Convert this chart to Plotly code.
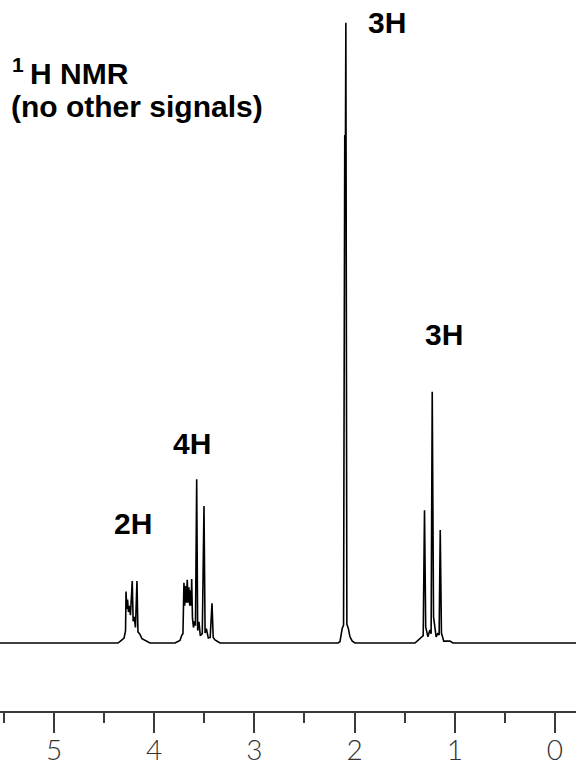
import plotly.graph_objects as go

# ---------------- data ----------------
# baseline end points (ppm, intensity)
baseline_left_ppm = [5.70]
baseline_left_int = [0.0]

# 2H multiplet (~4.2 ppm)
q_ppm = [4.361, 4.331, 4.301, 4.286, 4.281, 4.274, 4.266, 4.257, 4.247, 4.237,
         4.219, 4.210, 4.199, 4.187, 4.172, 4.162, 4.142, 4.122, 4.092, 4.042]
q_int = [0.0, 0.4, 0.8, 2.0, 8.3, 5.5, 7.0, 5.0, 6.0, 4.5,
         10.0, 3.5, 4.2, 2.5, 10.0, 1.8, 1.4, 0.7, 0.4, 0.0]

# 4H multiplet (~3.6 ppm)
m_ppm = [3.792, 3.743, 3.723, 3.713, 3.703, 3.696, 3.688, 3.679, 3.670, 3.662,
         3.654, 3.645, 3.636, 3.631, 3.626, 3.618, 3.608, 3.598, 3.588, 3.576,
         3.566, 3.553, 3.540, 3.520, 3.503, 3.492, 3.479, 3.460, 3.441, 3.423,
         3.411, 3.393, 3.343]
m_int = [0.0, 0.4, 1.3, 1.5, 9.7, 6.0, 9.2, 6.5, 10.2, 6.5,
         9.0, 6.0, 8.5, 6.0, 10.3, 4.0, 2.5, 3.5, 2.8, 26.4,
         2.0, 3.4, 1.2, 1.5, 22.1, 1.6, 2.3, 0.8, 0.9, 6.4,
         0.9, 0.5, 0.0]

# 3H singlet (~2.09 ppm)
s_ppm = [2.166, 2.146, 2.139, 2.123, 2.110, 2.098, 2.093, 2.087, 2.077, 2.063,
         2.046, 2.023, 1.996]
s_int = [0.0, 0.2, 1.0, 2.4, 2.9, 81.9, 72.0, 100.0, 3.0, 2.4,
         1.0, 0.3, 0.0]

# 3H triplet (~1.2 ppm)
t_ppm = [1.397, 1.367, 1.335, 1.315, 1.302, 1.290, 1.268, 1.248, 1.236, 1.225,
         1.212, 1.205, 1.186, 1.168, 1.156, 1.145, 1.133, 1.110, 1.048, 1.018]
t_int = [0.0, 0.5, 1.0, 1.2, 21.4, 2.6, 1.0, 2.1, 1.5, 40.5,
         4.2, 3.5, 1.0, 1.6, 1.3, 18.2, 1.6, 0.3, 0.3, 0.0]

baseline_right_ppm = [-0.50]
baseline_right_int = [0.0]

# integration labels
label_text = ["2H", "4H", "3H", "3H"]
label_ppm = [4.212, 3.623, 1.680, 1.108]
label_int = [19.2, 32.2, 100.0, 49.7]

# axis ticks
tick_vals = [0, 1, 2, 3, 4, 5]
tick_text = ["0", "1", "2", "3", "4", "5"]

# ---------------- figure ----------------
ppm = baseline_left_ppm + q_ppm + m_ppm + s_ppm + t_ppm + baseline_right_ppm
inten = baseline_left_int + q_int + m_int + s_int + t_int + baseline_right_int

fig = go.Figure()
fig.add_trace(go.Scatter(
    x=ppm, y=inten, mode="lines",
    line=dict(color="black", width=1.6),
    hoverinfo="skip", showlegend=False,
))

label_font = dict(family="Liberation Sans, Arial, sans-serif", size=30, color="black")
for txt, xp, yi in zip(label_text, label_ppm, label_int):
    fig.add_annotation(x=xp, y=yi, xref="x", yref="y", text="<b>%s</b>" % txt,
                       showarrow=False, xanchor="center", yanchor="middle",
                       font=label_font)

# header text
fig.add_annotation(xref="paper", yref="paper", x=10/576, y=1-64.5/711,
                   text="<b>1</b>", showarrow=False, xanchor="left", yanchor="middle",
                   font=dict(family="Liberation Sans, Arial", size=21, color="black"))
fig.add_annotation(xref="paper", yref="paper", x=28/576, y=1-73/711,
                   text="<b>H NMR</b>", showarrow=False, xanchor="left", yanchor="middle",
                   font=label_font)
fig.add_annotation(xref="paper", yref="paper", x=9/576, y=1-106/711,
                   text="<b>(no other signals)</b>", showarrow=False, xanchor="left",
                   yanchor="middle", font=label_font)

fig.update_layout(
    width=576, height=767,
    margin=dict(l=0, r=0, t=0, b=56, pad=0),
    paper_bgcolor="white", plot_bgcolor="white",
    xaxis=dict(
        range=[5.539, -0.21], showgrid=False, zeroline=False, automargin=False,
        showline=True, linecolor="#3a3a3a", linewidth=2,
        tickmode="array", tickvals=tick_vals, ticktext=tick_text,
        ticks="outside", ticklen=20, tickwidth=2, tickcolor="#3a3a3a",
        minor=dict(dtick=0.5, ticks="outside", ticklen=10, tickwidth=2,
                   tickcolor="#3a3a3a", showgrid=False),
        tickfont=dict(family="Lato, DejaVu Sans, sans-serif", size=28,
                      color="#333333", weight=300),
        ticklabelstandoff=-7,
    ),
    yaxis=dict(range=[-10.96, 103.66], visible=False, showgrid=False, zeroline=False,
               automargin=False),
)

fig.write_html("out.html", config={"displayModeBar": False},
               post_script="document.body.style.margin='0';document.body.style.overflow='hidden';")
